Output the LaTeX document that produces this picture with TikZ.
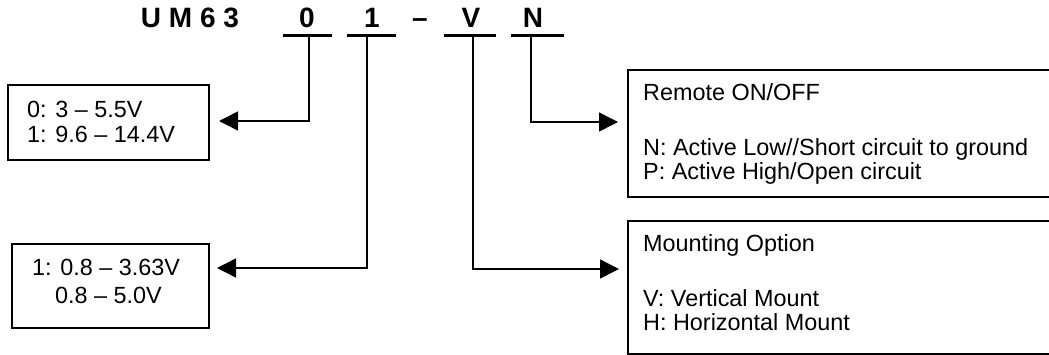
\documentclass[tikz,border=0pt]{standalone}
\usepackage{fontspec}
\setmainfont{Liberation Sans}
\usetikzlibrary{arrows.meta}
\begin{document}
\begin{tikzpicture}[x=1pt,y=-1pt,
  body/.style={inner sep=0pt, font=\fontsize{23.4}{25}\selectfont},
  ttl/.style={inner sep=0pt, anchor=base, font=\fontsize{28}{30}\selectfont\bfseries},
  boxs/.style={draw, line width=1.5pt, inner sep=0pt, anchor=north west},
  bar/.style={line width=3pt},
  conn/.style={line width=1.5pt, -{Triangle[length=19pt,width=19pt]}}
]
\useasboundingbox (0,0) rectangle (1049,354);
\begin{scope}
\clip (0,0) rectangle (1049,354);
% boxes
\node[boxs, minimum width=201pt, minimum height=75pt] (b0) at (7,84) {};
\node[boxs, minimum width=197pt, minimum height=84pt] (b1) at (11,243) {};
\node[boxs, minimum width=450pt, minimum height=127pt] (bN) at (627,69) {};
\node[boxs, minimum width=450pt, minimum height=133pt] (bV) at (627,220) {};
\end{scope}
% title
\node[ttl] (tU) at (190,27) {U M 6 3};
\node[ttl] (c0) at (307,27) {0};
\node[ttl] (c1) at (372,27) {1};
\node[ttl] (cd) at (420,27) {–};
\node[ttl] (cV) at (471,27) {V};
\node[ttl] (cN) at (533,27) {N};
% underlines
\draw[bar] (283,35) -- (332,35);
\draw[bar] (347,35) -- (396,35);
\draw[bar] (444,35) -- (496,35);
\draw[bar] (511,35) -- (564,35);
% connectors
\coordinate (s0) at (309,35);
\coordinate (s1) at (367,35);
\coordinate (sV) at (473,35);
\coordinate (sN) at (531,35);
\coordinate (e0) at (219,121);
\coordinate (e1) at (217,268);
\coordinate (eV) at (619,269);
\coordinate (eN) at (618,122);
\draw[conn] (s0) |- (e0);
\draw[conn] (s1) |- (e1);
\draw[conn] (sV) |- (eV);
\draw[conn] (sN) |- (eN);
% texts
\node[body, anchor=base west] (t0a) at (27,117) {0: 3 – 5.5V};
\node[body, anchor=base west] (t0b) at (27,142) {1: 9.6 – 14.4V};
\node[body, anchor=base west] (t1a) at (32,275) {1: 0.8 – 3.63V};
\node[body, anchor=base west] (t1b) at (55,303) {0.8 – 5.0V};
\node[body, anchor=base west] (tNa) at (643,100) {Remote ON/OFF};
\node[body, anchor=base west] (tNb) at (643,155) {N: Active Low//Short circuit to ground};
\node[body, anchor=base west] (tNc) at (643,179) {P: Active High/Open circuit};
\node[body, anchor=base west] (tVa) at (643,251) {Mounting Option};
\node[body, anchor=base west] (tVb) at (643,306) {V: Vertical Mount};
\node[body, anchor=base west] (tVc) at (643,330) {H: Horizontal Mount};
\end{tikzpicture}
\end{document}
